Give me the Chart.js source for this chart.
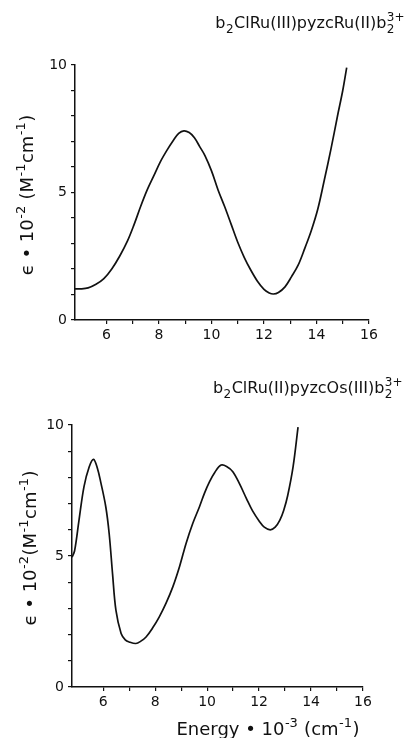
<!DOCTYPE html>
<html>
<head>
<meta charset="utf-8">
<script src="https://cdn.jsdelivr.net/npm/chart.js@4.4.1/dist/chart.umd.min.js"></script>
<style>
  html, body { margin: 0; padding: 0; background: #fff; }
  body { width: 410px; height: 738px; position: relative; overflow: hidden; }
  canvas { position: absolute; left: 0; }
  #chart-top { top: 0; }
  #chart-bottom { top: 350px; }
</style>
</head>
<body>
<canvas id="chart-top" width="410" height="350"></canvas>
<canvas id="chart-bottom" width="410" height="388"></canvas>
<script>
// --- Data (energy in 10^3 cm^-1, epsilon in 10^2 M^-1 cm^-1) ---
const ruRuEnergy = [4.8, 5.0, 5.3, 5.6, 5.9, 6.2, 6.5, 6.8, 7.05, 7.3, 7.55, 7.8, 8.05, 8.3, 8.55, 8.75, 8.95,
  9.15, 9.35, 9.55, 9.75, 10.0, 10.25, 10.5, 10.75, 11.0, 11.25, 11.5, 11.75, 12.0, 12.2, 12.36, 12.55,
  12.8, 13.05, 13.3, 13.55, 13.8, 14.05, 14.3, 14.55, 14.8, 15.0, 15.15];
const ruRuEps = [1.22, 1.22, 1.26, 1.4, 1.62, 2.0, 2.5, 3.1, 3.74, 4.45, 5.1, 5.65, 6.2, 6.65, 7.05, 7.32, 7.42,
  7.35, 7.15, 6.8, 6.45, 5.85, 5.1, 4.45, 3.75, 3.05, 2.45, 1.95, 1.52, 1.2, 1.06, 1.02, 1.08,
  1.3, 1.7, 2.15, 2.8, 3.5, 4.35, 5.5, 6.7, 8.0, 9.0, 9.9];

const ruOsEnergy = [4.8, 4.9, 5.07, 5.26, 5.46, 5.63, 5.78, 5.91, 6.1, 6.23, 6.36, 6.49, 6.69, 6.85, 7.0, 7.26,
  7.45, 7.65, 7.9, 8.16, 8.42, 8.68, 8.94, 9.19, 9.45, 9.71, 9.9, 10.09, 10.3, 10.54, 10.75, 10.99,
  11.25, 11.51, 11.75, 12.02, 12.2, 12.43, 12.62, 12.8, 12.95, 13.1, 13.31, 13.5];
const ruOsEps = [4.95, 5.2, 6.37, 7.64, 8.4, 8.69, 8.34, 7.8, 6.88, 5.86, 4.33, 2.93, 2.04, 1.8, 1.72, 1.66,
  1.75, 1.91, 2.25, 2.68, 3.2, 3.82, 4.6, 5.48, 6.25, 6.89, 7.4, 7.83, 8.2, 8.47, 8.42, 8.22,
  7.75, 7.2, 6.72, 6.31, 6.1, 6.0, 6.1, 6.37, 6.75, 7.3, 8.41, 9.92];

const xTickLabels = [6, 8, 10, 12, 14, 16];
const yTickLabels = [0, 5, 10];
const xRange = [4.8, 16];
const yRange = [0, 10];

(function () {
  'use strict';

  var FONT = "'DejaVu Sans', sans-serif";
  var INK = '#111';

  // draw a run of text with subscripts / superscripts (optionally stacked, optionally rotated)
  function drawRich(ctx, item) {
    var size = item.size;
    var small = Math.round(size * 0.72);
    var parts = item.parts;

    function w(text, s) {
      ctx.font = s + 'px ' + FONT;
      return ctx.measureText(text).width;
    }

    var total = 0;
    parts.forEach(function (p) {
      if (p.t !== undefined) total += w(p.t, size);
      else total += Math.max(p.sub ? w(p.sub, small) : 0, p.sup ? w(p.sup, small) : 0) + 1;
    });

    ctx.save();
    ctx.translate(item.x, item.y);
    if (item.rotate) ctx.rotate(-Math.PI / 2);
    ctx.fillStyle = INK;
    ctx.textBaseline = 'alphabetic';
    ctx.textAlign = 'left';
    var cx = item.align === 'right' ? -total : item.align === 'center' ? -total / 2 : 0;

    parts.forEach(function (p) {
      if (p.t !== undefined) {
        ctx.font = size + 'px ' + FONT;
        ctx.fillText(p.t, cx, 0);
        cx += w(p.t, size);
      } else {
        ctx.font = small + 'px ' + FONT;
        if (p.sub) ctx.fillText(p.sub, cx + 0.5, size * 0.32);
        if (p.sup) ctx.fillText(p.sup, cx + 0.5, -size * 0.45);
        cx += Math.max(p.sub ? w(p.sub, small) : 0, p.sup ? w(p.sup, small) : 0) + 1;
      }
    });
    ctx.restore();
  }

  var richLabels = {
    id: 'richLabels',
    afterDraw: function (chart, args, opts) {
      (opts.items || []).forEach(function (item) { drawRich(chart.ctx, item); });
    }
  };

  function makeChart(canvasId, xs, ys, geo, labels) {
    var points = xs.map(function (x, i) { return { x: x, y: ys[i] }; });

    return new Chart(document.getElementById(canvasId).getContext('2d'), {
      type: 'line',
      data: {
        datasets: [{
          data: points,
          borderColor: INK,
          borderWidth: 1.7,
          pointRadius: 0,
          fill: false,
          tension: 0.35,
        }],
      },
      options: {
        responsive: false,
        animation: false,
        layout: { padding: { top: geo.top, right: geo.right, left: 0, bottom: 0 } },
        plugins: {
          legend: { display: false },
          tooltip: { enabled: false },
          richLabels: { items: labels },
        },
        scales: {
          x: {
            type: 'linear',
            min: xRange[0],
            max: xRange[1],
            border: { color: INK, width: 1.5 },
            grid: { drawOnChartArea: false, color: INK, lineWidth: 1.2, tickLength: 4 },
            ticks: {
              stepSize: 1,
              autoSkip: false,
              maxRotation: 0,
              padding: 3,
              color: INK,
              font: { family: FONT, size: 14 },
              callback: function (v) { return xTickLabels.indexOf(v) >= 0 ? String(v) : ''; },
            },
            afterBuildTicks: function (s) {
              s.ticks = s.ticks.filter(function (t) { return Number.isInteger(t.value); });
            },
            afterFit: function (s) { s.height = geo.axisH; },
          },
          y: {
            min: yRange[0],
            max: yRange[1],
            border: { color: INK, width: 1.5 },
            grid: { drawOnChartArea: false, color: INK, lineWidth: 1.2, tickLength: 4 },
            ticks: {
              stepSize: 1,
              autoSkip: false,
              padding: 4,
              color: INK,
              font: { family: FONT, size: 14 },
              callback: function (v) { return yTickLabels.indexOf(v) >= 0 ? String(v) : ''; },
            },
            afterFit: function (s) { s.width = geo.axisW; },
          },
        },
      },
      plugins: [richLabels],
    });
  }

  // --- Top panel: b2ClRu(III)pyzcRu(II)b2 3+ ---
  makeChart('chart-top', ruRuEnergy, ruRuEps, { top: 65, right: 41, axisW: 75, axisH: 30 }, [
    { x: 405, y: 28, size: 16, align: 'right',
      parts: [{ t: 'b' }, { sub: '2' }, { t: 'ClRu(III)pyzcRu(II)b' }, { sub: '2', sup: '3+' }] },
    { x: 33, y: 195, size: 18, align: 'center', rotate: true,
      parts: [{ t: 'ϵ • 10' }, { sup: '-2' }, { t: ' (M' }, { sup: '-1' }, { t: 'cm' }, { sup: '-1' }, { t: ')' }] },
  ]);

  // --- Bottom panel: b2ClRu(II)pyzcOs(III)b2 3+ ---
  makeChart('chart-bottom', ruOsEnergy, ruOsEps, { top: 75, right: 47, axisW: 72, axisH: 51 }, [
    { x: 403, y: 43, size: 16, align: 'right',
      parts: [{ t: 'b' }, { sub: '2' }, { t: 'ClRu(II)pyzcOs(III)b' }, { sub: '2', sup: '3+' }] },
    { x: 36, y: 198, size: 18, align: 'center', rotate: true,
      parts: [{ t: 'ϵ • 10' }, { sup: '-2' }, { t: '(M' }, { sup: '-1' }, { t: 'cm' }, { sup: '-1' }, { t: ')' }] },
    { x: 268, y: 385, size: 18, align: 'center',
      parts: [{ t: 'Energy • 10' }, { sup: '-3' }, { t: ' (cm' }, { sup: '-1' }, { t: ')' }] },
  ]);
})();
</script>
</body>
</html>
